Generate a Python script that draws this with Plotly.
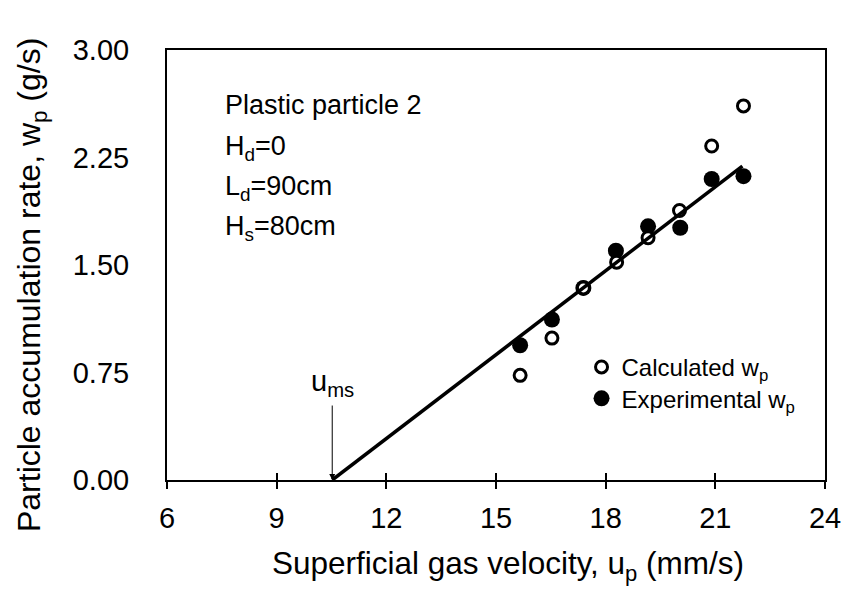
import plotly.graph_objects as go

# Data
u_calc = [15.66, 16.53, 17.39, 18.30, 19.16, 20.02, 20.90, 21.77]
w_calc = [0.73, 0.99, 1.34, 1.52, 1.69, 1.88, 2.33, 2.61]
u_exp = [15.66, 16.53, 17.39, 18.28, 19.16, 20.04, 20.90, 21.77]
w_exp = [0.94, 1.12, 1.34, 1.60, 1.77, 1.76, 2.10, 2.12]
fit_u = [10.52, 21.74]
fit_w = [0.0, 2.19]
u_ms = 10.52
x_ticks = [6, 9, 12, 15, 18, 21, 24]
y_ticks = [0.0, 0.75, 1.5, 2.25, 3.0]
y_tick_text = ["0.00", "0.75", "1.50", "2.25", "3.00"]

FONT = "Liberation Sans, Arial, sans-serif"

fig = go.Figure()
fig.add_trace(go.Scatter(
    x=u_exp, y=w_exp, mode="markers", name="Experimental w<sub>p</sub>",
    marker=dict(symbol="circle", size=16, color="black", line=dict(color="black", width=0)),
    legend="legend2"))
fig.add_trace(go.Scatter(
    x=u_calc, y=w_calc, mode="markers", name="Calculated w<sub>p</sub>",
    marker=dict(symbol="circle", size=12, color="white", line=dict(color="black", width=3)),
    legend="legend"))
fig.add_trace(go.Scatter(
    x=fit_u, y=fit_w, mode="lines", line=dict(color="black", width=3.5),
    showlegend=False, hoverinfo="skip"))
# helper trace for inner (crossing) ticks
fig.add_trace(go.Scatter(x=[x_ticks[0]], y=[0], xaxis="x2", mode="markers",
                         marker=dict(opacity=0), showlegend=False, hoverinfo="skip"))

fig.update_layout(
    width=853, height=591,
    margin=dict(l=167, r=23, t=50, b=111),
    paper_bgcolor="white", plot_bgcolor="white",
    font=dict(family=FONT, color="black", size=28),
    xaxis=dict(range=[6, 24], tickvals=x_ticks, ticks="outside", ticklen=7,
               tickwidth=1.5, tickcolor="black", showline=True, linecolor="black",
               linewidth=2, mirror=True, showgrid=False, zeroline=False,
               tickfont=dict(size=29), ticklabelstandoff=4),
    xaxis2=dict(range=[6, 24], tickvals=x_ticks, ticks="inside", ticklen=7,
                tickwidth=1.5, tickcolor="black", overlaying="x", anchor="y",
                side="bottom", showticklabels=False, showline=False,
                showgrid=False, zeroline=False),
    yaxis=dict(range=[0, 3], tickvals=y_ticks, ticktext=y_tick_text, ticks="",
               showline=True, linecolor="black", linewidth=2, mirror=True,
               showgrid=False, zeroline=False, tickfont=dict(size=29),
               ticklabelstandoff=30),
    legend=dict(x=0.63, y=0.262, xanchor="left", yanchor="middle",
                font=dict(size=24), bgcolor="rgba(0,0,0,0)", itemsizing="trace"),
    legend2=dict(x=0.63, y=0.189, xanchor="left", yanchor="middle",
                 font=dict(size=24), bgcolor="rgba(0,0,0,0)", itemsizing="trace"),
)

# axis titles as annotations for exact placement
fig.add_annotation(xref="paper", yref="paper", x=(511 - 167) / 663, y=-(565 - 480) / 430,
                   text="Superficial gas velocity, u<sub>p</sub> (mm/s)", showarrow=False,
                   xanchor="center", yanchor="middle", font=dict(size=31.5))
fig.add_annotation(xref="paper", yref="paper", x=-(167 - 30) / 663, y=(480 - 285) / 430,
                   text="Particle accumulation rate, w<sub>p</sub> (g/s)", showarrow=False,
                   textangle=-90, xanchor="center", yanchor="middle", font=dict(size=32))

notes = ["Plastic particle 2", "H<sub>d</sub>=0", "L<sub>d</sub>=90cm", "H<sub>s</sub>=80cm"]
note_y = [2.616, 2.316, 2.037, 1.758]
for t, yy in zip(notes, note_y):
    fig.add_annotation(x=7.52, y=yy, text=t, showarrow=False, xanchor="left",
                       yanchor="middle", font=dict(size=27))

fig.add_annotation(x=u_ms, y=0, ax=u_ms, ay=0.53, axref="x", ayref="y",
                   xref="x", yref="y", text="", showarrow=True, arrowhead=2,
                   arrowsize=1.2, arrowwidth=1, arrowcolor="black")
fig.add_annotation(x=u_ms, y=0.68, text="u<sub>ms</sub>", showarrow=False,
                   xanchor="center", yanchor="middle", font=dict(size=29))

fig.write_html("out.html")
